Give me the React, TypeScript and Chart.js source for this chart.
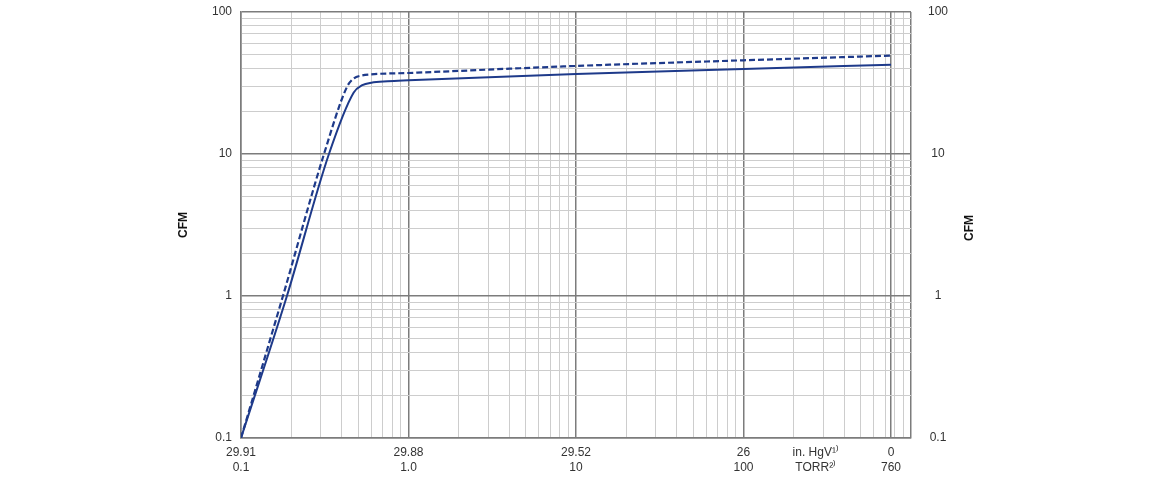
import React, { useEffect, useRef } from 'react';
import { Chart, registerables } from 'chart.js';

Chart.register(...registerables);

// pressure in TORR, pumping speed in CFM
const torrSolid = [0.1, 0.188, 0.335, 0.47, 0.53, 0.6, 0.75, 1, 10, 100, 760];
const cfmSolid = [0.1, 1, 10, 27, 30.5, 31.8, 32.5, 33, 36.6, 39.7, 42.5];

const torrDashed = [0.1, 0.178, 0.313, 0.43, 0.47, 0.52, 0.6, 1, 10, 100, 760];
const cfmDashed = [0.1, 1, 10, 29.8, 34, 35.6, 36.4, 37.2, 41.7, 45.7, 49.3];

// bottom axis: two label rows (unit names sit between 100 and 760)
const torrTicks = [0.1, 1, 10, 100, 270, 760];
const hgLabels = ['29.91', '29.88', '29.52', '26', 'in. HgV¹⁾', '0'];
const torrLabels = ['0.1', '1.0', '10', '100', 'TORR²⁾', '760'];

const cfmTicks = [0.1, 1, 10, 100];
const cfmLabels = ['0.1', '1', '10', '100'];

const LINE = '#1e3a8a';
const MAJOR = '#7c7c7c';
const MINOR = '#cdcdcd';
const TEXT = '#333';
const FONT = "'Liberation Sans Narrow', 'Arial Narrow', 'Liberation Sans', Arial, sans-serif";

// 1..9 steps of every decade between two powers of ten
function logSteps(minExp: number, maxExp: number) {
  const out: number[] = [];
  for (let e = minExp; e < maxExp; e++) {
    for (let m = 1; m <= 9; m++) {
      out.push(e < 0 ? m / Math.pow(10, -e) : m * Math.pow(10, e));
    }
  }
  out.push(Math.pow(10, maxExp));
  return out;
}

const same = (a: number, b: number) => Math.abs(a - b) < 1e-9 * Math.max(a, b);
const isDecade = (v: number) => same(v, Math.pow(10, Math.round(Math.log10(v))));

const rightTitle = {
  id: 'rightTitle',
  afterDraw(chart: Chart) {
    const { ctx, chartArea } = chart;
    ctx.save();
    ctx.translate(970, (chartArea.top + chartArea.bottom) / 2 + 3);
    ctx.rotate(-Math.PI / 2);
    ctx.font = `bold 12px ${FONT}`;
    ctx.fillStyle = '#111';
    ctx.textAlign = 'center';
    ctx.textBaseline = 'middle';
    ctx.fillText('CFM', 0, 0);
    ctx.restore();
  },
};

const PumpChart: React.FC = () => {
  const canvasRef = useRef<HTMLCanvasElement>(null);

  useEffect(() => {
    document.body.style.margin = '0';
    const ctx = canvasRef.current?.getContext('2d');
    if (!ctx) return;

    const xGrid = [...logSteps(-1, 3), 760];
    const xTickValues = [...xGrid, 270].sort((a, b) => a - b);
    const yTickValues = logSteps(-1, 2);
    const onGrid = (v: number) => xGrid.some((g) => same(g, v));
    const xMajor = (v: number) => isDecade(v) || same(v, 760);

    const chart = new Chart(ctx, {
      type: 'line',
      data: {
        datasets: [
          {
            data: torrSolid.map((t, i) => ({ x: t, y: cfmSolid[i] })),
            borderColor: LINE,
            borderWidth: 2,
            pointRadius: 0,
            cubicInterpolationMode: 'monotone',
            yAxisID: 'y',
          },
          {
            data: torrDashed.map((t, i) => ({ x: t, y: cfmDashed[i] })),
            borderColor: LINE,
            borderWidth: 2.2,
            borderDash: [6, 3],
            pointRadius: 0,
            cubicInterpolationMode: 'monotone',
            yAxisID: 'y',
          },
        ],
      },
      options: {
        animation: false,
        responsive: true,
        maintainAspectRatio: false,
        layout: { padding: { top: 12, left: 0, right: 0, bottom: 0 } },
        plugins: { legend: { display: false }, tooltip: { enabled: false } },
        scales: {
          x: {
            type: 'logarithmic',
            min: 0.1,
            max: 1000,
            afterBuildTicks: (s: any) => {
              s.ticks = xTickValues.map((v) => ({ value: v }));
            },
            afterFit: (s: any) => {
              s.height = 42;
              s.paddingLeft = 0;
              s.paddingRight = 0;
            },
            grid: {
              drawTicks: false,
              color: (c: any) => {
                const v = c.tick.value;
                if (!onGrid(v)) return 'rgba(0,0,0,0)';
                return xMajor(v) ? MAJOR : MINOR;
              },
              lineWidth: (c: any) => (xMajor(c.tick.value) ? 1.5 : 1),
            },
            border: { color: MAJOR, width: 1.5 },
            ticks: {
              autoSkip: false,
              maxRotation: 0,
              padding: 7,
              color: TEXT,
              font: { family: FONT, size: 12, lineHeight: 1.25 },
              callback: (v: any) => {
                const i = torrTicks.findIndex((t) => same(t, Number(v)));
                return i < 0 ? '' : [hgLabels[i], torrLabels[i]];
              },
            },
          },
          y: {
            type: 'logarithmic',
            position: 'left',
            min: 0.1,
            max: 100,
            afterBuildTicks: (s: any) => {
              s.ticks = yTickValues.map((v) => ({ value: v }));
            },
            afterFit: (s: any) => {
              s.width = 241;
              s.paddingTop = 0;
              s.paddingBottom = 0;
            },
            grid: {
              drawTicks: false,
              color: (c: any) => (isDecade(c.tick.value) ? MAJOR : MINOR),
              lineWidth: (c: any) => (isDecade(c.tick.value) ? 1.5 : 1),
            },
            border: { color: MAJOR, width: 1.5 },
            ticks: {
              autoSkip: false,
              padding: 9,
              color: TEXT,
              font: { family: FONT, size: 12 },
              callback: (v: any) => {
                const i = cfmTicks.findIndex((t) => same(t, Number(v)));
                return i < 0 ? '' : cfmLabels[i];
              },
            },
            title: {
              display: true,
              text: 'CFM',
              color: '#111',
              font: { family: FONT, size: 12, weight: 'bold' },
              padding: { top: 176, bottom: 0 },
            },
          },
          y2: {
            type: 'logarithmic',
            position: 'right',
            min: 0.1,
            max: 100,
            afterBuildTicks: (s: any) => {
              s.ticks = cfmTicks.map((v) => ({ value: v }));
            },
            afterFit: (s: any) => {
              s.width = 249;
              s.paddingTop = 0;
              s.paddingBottom = 0;
            },
            grid: { display: false, drawTicks: false },
            border: { display: false },
            ticks: {
              autoSkip: false,
              padding: 17,
              crossAlign: 'center',
              color: TEXT,
              font: { family: FONT, size: 12 },
              callback: (v: any) => {
                const i = cfmTicks.findIndex((t) => same(t, Number(v)));
                return i < 0 ? '' : cfmLabels[i];
              },
            },
          },
        },
      },
      plugins: [rightTitle],
    });

    return () => {
      chart.destroy();
    };
  }, []);

  return (
    <div style={{ position: 'relative', width: '1160px', height: '480px', background: '#fff' }}>
      <canvas ref={canvasRef}></canvas>
    </div>
  );
};

export default function App() {
  return <PumpChart />;
}
